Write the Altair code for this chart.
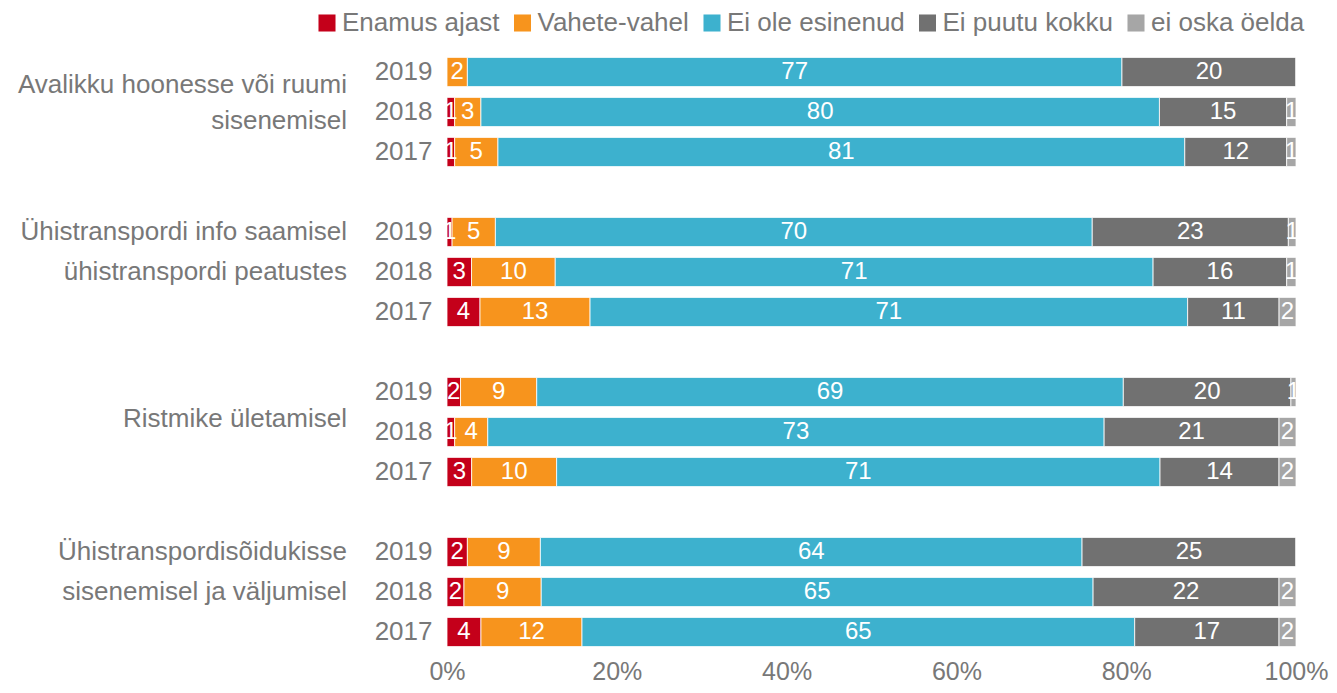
import altair as alt
import pandas as pd

groups = [
    "Avalikku hoonesse või ruumi\nsisenemisel",
    "Ühistranspordi info saamisel\nühistranspordi peatustes",
    "Ristmike ületamisel",
    "Ühistranspordisõidukisse\nsisenemisel ja väljumisel",
]
years = ["2019", "2018", "2017"]
series = ["Enamus ajast", "Vahete-vahel", "Ei ole esinenud", "Ei puutu kokku", "ei oska öelda"]
colors = ["#C4001A", "#F7941D", "#3DB1CE", "#717171", "#A6A6A6"]

# values per group, per year (2019, 2018, 2017), per series
enamus = [[0.0, 0.9, 0.9], [0.6, 2.9, 3.9], [1.6, 0.9, 2.9], [2.4, 2.0, 4.0]]
vahete = [[2.4, 3.1, 5.1], [5.1, 9.9, 13.0], [9.0, 3.9, 10.0], [8.6, 9.1, 11.9]]
ei_ole = [[77.1, 80.0, 80.9], [70.3, 70.7, 70.6], [69.3, 72.6, 71.0], [63.8, 65.0, 65.1]]
ei_puutu = [[20.5, 15.0, 12.0], [23.1, 15.8, 10.8], [19.8, 20.6, 14.0], [25.2, 21.9, 17.0]]
ei_oska = [[0.0, 1.1, 1.1], [0.9, 1.1, 2.0], [0.6, 2.0, 2.0], [0.0, 2.0, 2.0]]

all_vals = [enamus, vahete, ei_ole, ei_puutu, ei_oska]

rows = []
slot_domain = []
for gi, g in enumerate(groups):
    for yi, y in enumerate(years):
        key = f"{gi}|{y}"
        slot_domain.append(key)
        for si, s in enumerate(series):
            v = all_vals[si][gi][yi]
            rows.append({
                "slot": key, "group": g, "year": y, "series": s, "order": si,
                "value": v, "label": str(int(round(v))) if round(v) > 0 else "",
            })
    if gi < len(groups) - 1:
        slot_domain.append(f"gap{gi}")
df = pd.DataFrame(rows)

lab_rows = []
for gi, g in enumerate(groups):
    lines = g.split("\n")
    kind = "first" if gi == 0 else ("single" if len(lines) == 1 else "multi")
    lab_rows.append({"slot": f"{gi}|2018", "text": lines, "kind": kind})
lab_df = pd.DataFrame(lab_rows)

TXT = "#787878"
FONT = "Liberation Sans"

yscale = alt.Scale(domain=slot_domain, paddingInner=0.27, paddingOuter=0.135)
x_axis = alt.Axis(format=".0%", values=[0, 0.2, 0.4, 0.6, 0.8, 1.0], labelFontSize=25,
                  labelColor=TXT, labelFont=FONT, domain=False, ticks=False, grid=False,
                  labelPadding=7, labelFlush=False)

base = alt.Chart(df).transform_stack(
    stack="value", groupby=["slot"], as_=["v0", "v1"],
    sort=[alt.SortField("order", order="ascending")], offset="normalize",
)

bars = base.mark_bar(stroke="white", strokeWidth=0.8).encode(
    y=alt.Y("slot:N", scale=yscale, title=None,
            axis=alt.Axis(labelExpr="indexof(datum.value,'|')>=0 ? split(datum.value,'|')[1] : ''",
                          labelFontSize=26, labelColor=TXT, labelFont=FONT, domain=False,
                          ticks=False, labelPadding=15, grid=False)),
    x=alt.X("v0:Q", title=None, scale=alt.Scale(domain=[0, 1]), axis=x_axis),
    x2="v1:Q",
    color=alt.Color("series:N", scale=alt.Scale(domain=series, range=colors),
                    legend=alt.Legend(title=None, orient="none", legendX=-133, legendY=-42,
                                      direction="horizontal", columns=5, symbolType="square",
                                      symbolSize=290, symbolStrokeWidth=0, labelFontSize=26,
                                      labelColor=TXT, labelFont=FONT, labelOffset=2,
                                      labelLimit=400, columnPadding=9.5, padding=0,
                                      symbolOffset=0)),
    order=alt.Order("order:Q"),
)

texts = base.transform_calculate(mid="(datum.v0 + datum.v1) / 2").transform_filter(
    "datum.label != ''"
).mark_text(color="white", fontSize=24, font=FONT, baseline="middle").encode(
    y=alt.Y("slot:N", scale=yscale),
    x=alt.X("mid:Q", title=None, axis=x_axis),
    text="label:N",
)


def glabel(kind, dy, lh):
    return alt.Chart(lab_df).transform_filter(f"datum.kind == '{kind}'").mark_text(
        align="right", baseline="middle", fontSize=26, font=FONT, color=TXT,
        lineHeight=lh, dy=dy,
    ).encode(y=alt.Y("slot:N", scale=yscale), x=alt.value(-100), text="text")


chart = alt.layer(
    bars, texts, glabel("first", -27, 36), glabel("multi", -40, 40), glabel("single", -13, 40)
).properties(
    width=849, height=600,
    autosize=alt.AutoSizeParams(type="none"),
    padding={"left": 439, "top": 44, "right": 33, "bottom": 33},
).configure(font=FONT).configure_view(stroke="transparent", strokeWidth=0).configure_axis(grid=False)

chart.save("out.html", embed_options={"renderer": "svg", "actions": False})
